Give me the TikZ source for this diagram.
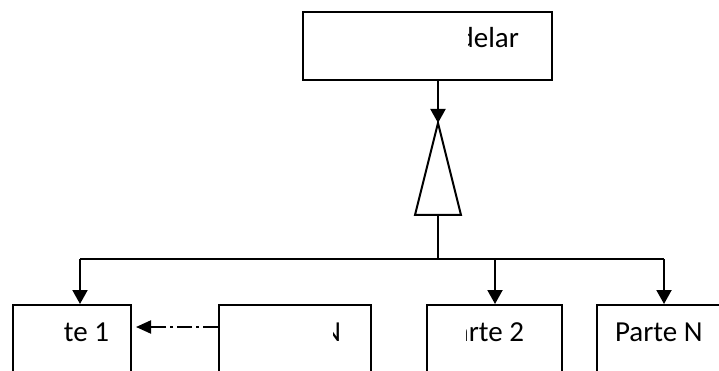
\documentclass[tikz,border=0pt]{standalone}
\usepackage{fontspec}
\setmainfont{Carlito}
\usetikzlibrary{arrows.meta}
\begin{document}
\begin{tikzpicture}[x=1pt,y=-1pt,
  line width=2pt,
  box/.style={draw, line width=2pt, rectangle, inner sep=0pt, anchor=north west, fill=white},
  lbl/.style={inner sep=0pt, anchor=base east, font=\fontsize{29}{33}\selectfont},
  tip/.style={-{Triangle[width=15pt,length=14pt]}},
  dashtip/.style={-{Triangle[width=13pt,length=15pt]}, dash pattern=on 15pt off 4pt on 3pt off 4pt}]
  \useasboundingbox (0,0) rectangle (719,371);
  \clip (0,0) rectangle (719,371);

  % boxes
  \node[box, minimum width=249pt, minimum height=68pt] (modelar) at (302,11) {};
  \node[box, minimum width=118pt, minimum height=110pt] (b1) at (12,304) {};
  \node[box, minimum width=152pt, minimum height=110pt] (bmid) at (218,304) {};
  \node[box, minimum width=135pt, minimum height=110pt] (b2) at (426,304) {};
  \node[box, minimum width=150pt, minimum height=110pt] (bn) at (596,304) {};

  % labels, partly masked on their left side
  \begin{scope}
    \clip (468,0) rectangle (719,100);
    \node[lbl] (t0) at (520,48) {delar};
  \end{scope}
  \begin{scope}
    \clip (64,300) rectangle (130,371);
    \node[lbl] (t1) at (110,341) {rte 1};
  \end{scope}
  \begin{scope}
    \clip (333,300) rectangle (370,371);
    \node[lbl] (tm) at (342,341) {N};
  \end{scope}
  \begin{scope}
    \clip (466,300) rectangle (561,371);
    \node[lbl] (t2) at (525,341) {arte 2};
  \end{scope}
  \node[lbl, anchor=base west] (tn) at (614,341) {Parte N};

  % generalisation triangle
  \coordinate (apex) at (438,123);
  \coordinate (base) at (438,215);
  \coordinate (bus) at (438,259);
  \draw[line join=miter] (apex) -- (461,215) -- (415,215) -- cycle;
  \draw[tip] (modelar.south -| apex) -- (apex);
  \draw (base) -- (bus);

  % distribution bus
  \coordinate (busL) at (80,259);
  \coordinate (bus2) at (495,259);
  \coordinate (busR) at (664,259);
  \draw (busL) -- (busR);
  \draw[tip] (busL) -- (busL |- b1.north);
  \draw[tip] (bus2) -- (bus2 |- b2.north);
  \draw[tip] (busR) -- (busR |- bn.north);

  % dependency
  \coordinate (d1) at (218,327);
  \coordinate (d0) at (136,327);
  \draw[dashtip] (d1) -- (d0);
\end{tikzpicture}
\end{document}
